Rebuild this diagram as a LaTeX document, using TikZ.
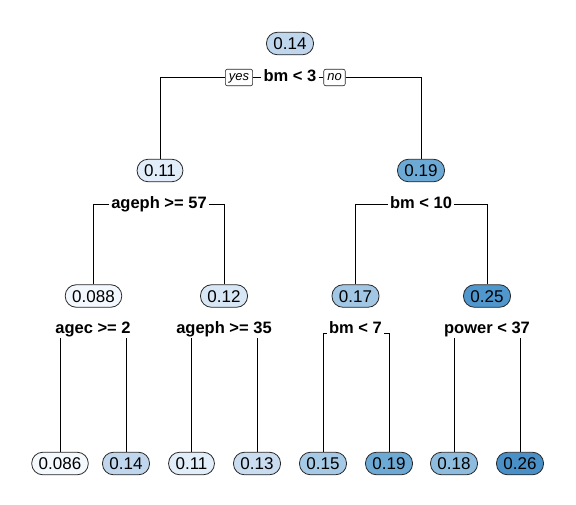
\documentclass[tikz,border=0pt]{standalone}
\usepackage{fontspec}
\setmainfont{Liberation Sans}
\definecolor{c086}{HTML}{F4F9FE}
\definecolor{c088}{HTML}{F2F8FD}
\definecolor{c11}{HTML}{E1EDF8}
\definecolor{c12}{HTML}{D8E7F5}
\definecolor{c13}{HTML}{CADDF0}
\definecolor{c14}{HTML}{BFD6ED}
\definecolor{c15}{HTML}{A6CAE5}
\definecolor{c17}{HTML}{A2C7E4}
\definecolor{c18}{HTML}{8EBCDE}
\definecolor{c19}{HTML}{6CA9D5}
\definecolor{c25}{HTML}{4F97CC}
\definecolor{c26}{HTML}{4890C7}
\tikzset{
  nd/.style={draw=black!85, line width=0.8pt, rounded corners=11pt, minimum height=22.5pt,
    inner xsep=7pt, inner ysep=0pt, font=\fontsize{17}{19}\selectfont,
    text height=12.2pt, text depth=0pt},
  lbl/.style={font=\bfseries\fontsize{16.5}{18}\selectfont, inner xsep=2pt, inner ysep=1.5pt,
    text height=11.8pt, text depth=3.5pt},
  yn/.style={draw=black!85, line width=0.6pt, rounded corners=2pt, font=\itshape\fontsize{13}{15}\selectfont,
    inner xsep=3.5pt, inner ysep=0pt, minimum height=16.5pt, text height=9.5pt, text depth=2.7pt},
  edge/.style={line width=0.8pt, black}
}
\begin{document}
\begin{tikzpicture}[x=1pt,y=-1pt]
\useasboundingbox (0,0) rectangle (576,504);
\fill[white] (0,0) rectangle (576,504);
% root
\node[nd, fill=c14] (r) at (290,43.5) {0.14};
\node[lbl] (L0) at (290,77.5) {bm < 3};
\node[yn] (yes) at (239,77.5) {yes};
\node[yn] (no) at (334.5,77.5) {no};
% level 1
\node[nd, fill=c11] (n1) at (160,170.5) {0.11};
\node[nd, fill=c19] (n2) at (421,170.5) {0.19};
\node[lbl] (L1a) at (159,204) {ageph >= 57};
\node[lbl] (L1b) at (421,204) {bm < 10};
% level 2
\node[nd, fill=c088] (n11) at (93.5,296) {0.088};
\node[nd, fill=c12] (n12) at (224,296) {0.12};
\node[nd, fill=c17] (n21) at (355.5,296) {0.17};
\node[nd, fill=c25] (n22) at (487,296) {0.25};
\node[lbl] (L2a) at (93,329) {agec >= 2};
\node[lbl] (L2b) at (224,329) {ageph >= 35};
\node[lbl] (L2c) at (355.5,329) {bm < 7};
\node[lbl] (L2d) at (487,329) {power < 37};
% leaves
\node[nd, fill=c086] (lf1) at (60,463.5) {0.086};
\node[nd, fill=c14] (lf2) at (126,463.5) {0.14};
\node[nd, fill=c11] (lf3) at (191.5,463.5) {0.11};
\node[nd, fill=c13] (lf4) at (257,463.5) {0.13};
\node[nd, fill=c15] (lf5) at (323,463.5) {0.15};
\node[nd, fill=c19] (lf6) at (389,463.5) {0.19};
\node[nd, fill=c18] (lf7) at (454,463.5) {0.18};
\node[nd, fill=c26] (lf8) at (520,463.5) {0.26};
% connectors
\draw[edge] (yes.west) -| (n1.north);
\draw[edge] (yes.east) -- (L0.west);
\draw[edge] (L0.east) -- (no.west);
\draw[edge] (no.east) -| (n2.north);
\draw[edge] (L1a.west) -| (n11.north);
\draw[edge] (L1a.east) -| (n12.north);
\draw[edge] (L1b.west) -| (n21.north);
\draw[edge] (L1b.east) -| (n22.north);
\draw[edge] (L2a.south -| lf1.north) -- (lf1.north);
\draw[edge] (L2a.south -| lf2.north) -- (lf2.north);
\draw[edge] (L2b.south -| lf3.north) -- (lf3.north);
\draw[edge] (L2b.south -| lf4.north) -- (lf4.north);
\draw[edge] ([yshift=-4pt]L2c.west) -| (lf5.north);
\draw[edge] ([yshift=-4pt]L2c.east) -| (lf6.north);
\draw[edge] (L2d.south -| lf7.north) -- (lf7.north);
\draw[edge] (L2d.south -| lf8.north) -- (lf8.north);
\end{tikzpicture}
\end{document}
